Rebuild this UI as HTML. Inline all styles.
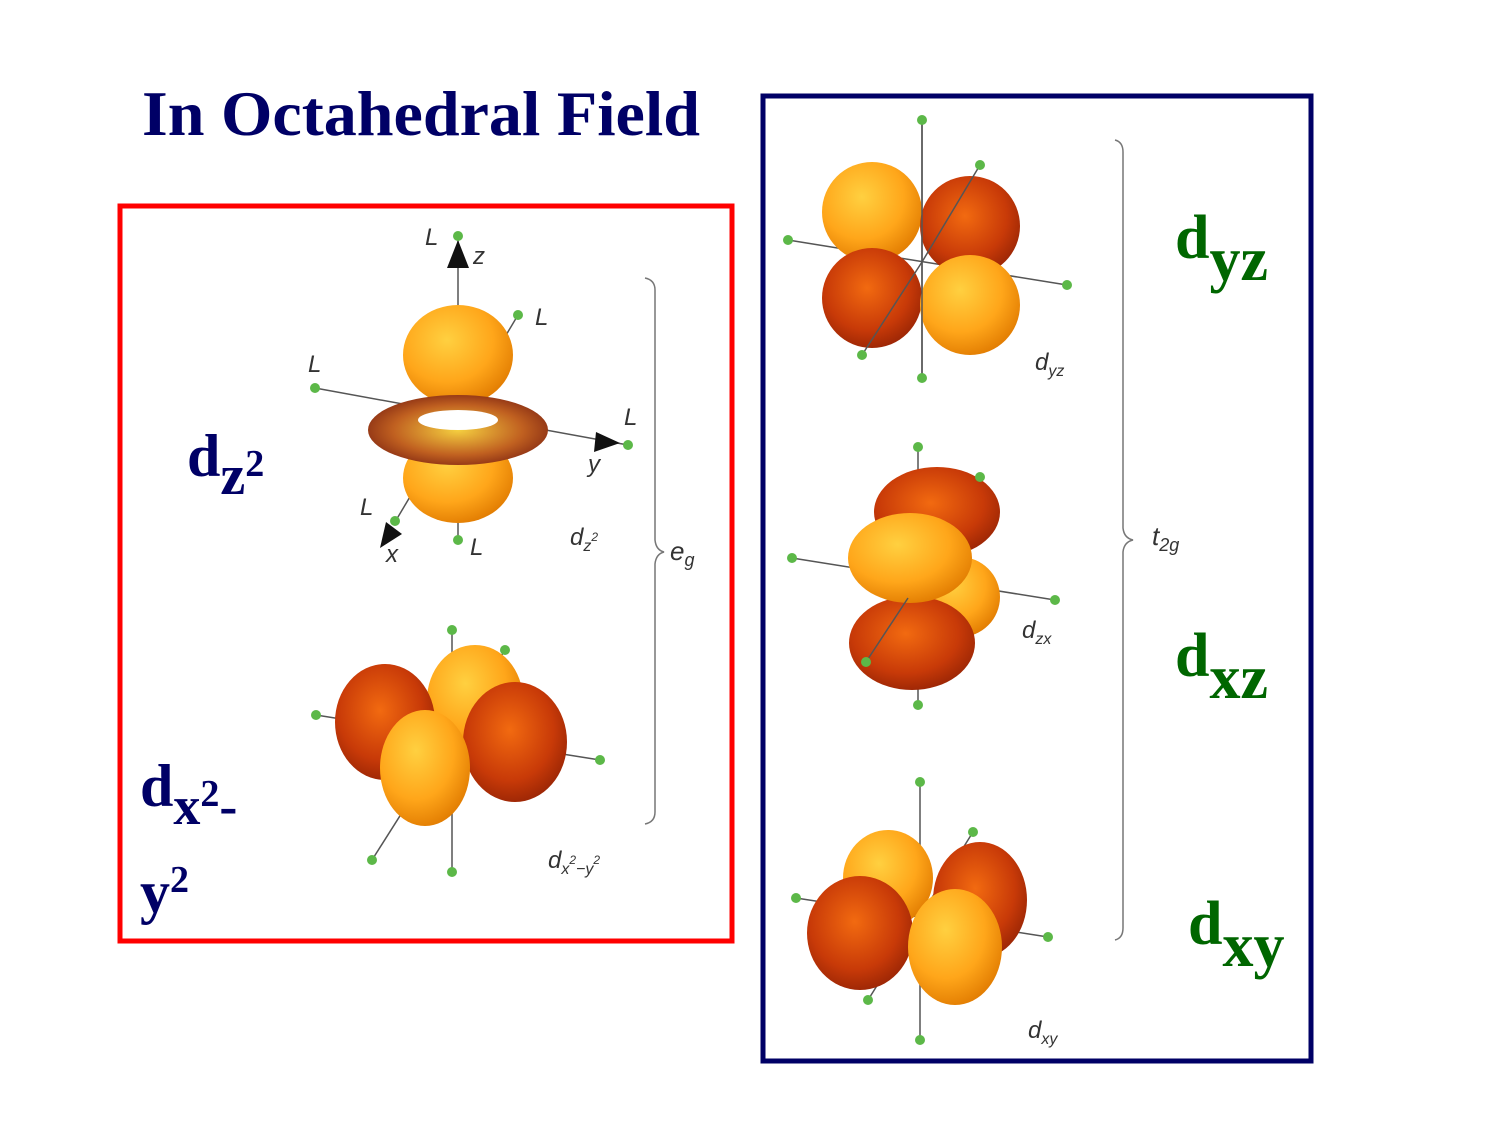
<!DOCTYPE html>
<html>
<head>
<meta charset="utf-8">
<style>
html,body{margin:0;padding:0;background:#fff;}
svg{display:block;}
.big{font-family:"Liberation Serif",serif;font-weight:bold;}
.sm{font-family:"Liberation Sans",sans-serif;font-style:italic;fill:#333;}
</style>
</head>
<body>
<svg width="1500" height="1125" viewBox="0 0 1500 1125">
<defs>
<radialGradient id="lt" cx="0.4" cy="0.35" r="0.7">
<stop offset="0" stop-color="#ffd040"/><stop offset="0.6" stop-color="#ffa61a"/><stop offset="1" stop-color="#e07a00"/>
</radialGradient>
<radialGradient id="dk" cx="0.45" cy="0.4" r="0.7">
<stop offset="0" stop-color="#f26a10"/><stop offset="0.6" stop-color="#c83a08"/><stop offset="1" stop-color="#8a1e04"/>
</radialGradient>
<radialGradient id="tor" cx="0.5" cy="0.5" r="0.6">
<stop offset="0" stop-color="#f5d040"/><stop offset="0.6" stop-color="#c06020"/><stop offset="1" stop-color="#7a2010"/>
</radialGradient>
</defs>

<text x="142" y="135" class="big" font-size="64" fill="#000066" textLength="558" lengthAdjust="spacingAndGlyphs">In Octahedral Field</text>

<rect x="120" y="206" width="612" height="735" fill="none" stroke="#ff0000" stroke-width="5"/>
<rect x="763" y="96" width="548" height="965" fill="none" stroke="#000066" stroke-width="5"/>

<g class="big" fill="#000066">
<text x="187" y="476" font-size="60">d<tspan font-size="56" dy="18">z</tspan><tspan font-size="38" dy="-18">2</tspan></text>
<text x="140" y="806" font-size="60">d<tspan font-size="54" dy="18">x</tspan><tspan font-size="38" dy="-18">2</tspan><tspan font-size="54" dy="18">-</tspan></text>
<text x="140" y="912" font-size="60">y<tspan font-size="38" dy="-20">2</tspan></text>
</g>
<g class="big" fill="#006600">
<text x="1175" y="258" font-size="62">d<tspan dy="22">yz</tspan></text>
<text x="1175" y="676" font-size="62">d<tspan dy="22">xz</tspan></text>
<text x="1188" y="944" font-size="62">d<tspan dy="22">xy</tspan></text>
</g>

<!-- dz2 -->
<g stroke="#555" stroke-width="1.5">
<line x1="458" y1="240" x2="458" y2="540"/>
<line x1="315" y1="388" x2="628" y2="445"/>
<line x1="395" y1="522" x2="518" y2="315"/>
<ellipse cx="458" cy="355" rx="55" ry="50" fill="url(#lt)" stroke="none"/>
<ellipse cx="458" cy="478" rx="55" ry="45" fill="url(#lt)" stroke="none"/>
<ellipse cx="458" cy="430" rx="90" ry="35" fill="url(#tor)" stroke="none"/>
<ellipse cx="458" cy="420" rx="40" ry="10" fill="#fff" stroke="none"/>
<polygon points="458,240 447,268 469,268" fill="#111" stroke="none"/>
<polygon points="620,443 596,432 594,452" fill="#111" stroke="none"/>
<polygon points="380,548 386,522 402,534" fill="#111" stroke="none"/>
</g>
<g fill="#5cb848">
<circle cx="458" cy="236" r="5"/><circle cx="518" cy="315" r="5"/><circle cx="315" cy="388" r="5"/><circle cx="628" cy="445" r="5"/><circle cx="395" cy="521" r="5"/><circle cx="458" cy="540" r="5"/>
</g>
<g class="sm" font-size="24">
<text x="425" y="245">L</text><text x="473" y="264">z</text><text x="535" y="325">L</text><text x="308" y="372">L</text><text x="624" y="425">L</text><text x="588" y="472">y</text><text x="360" y="515">L</text><text x="386" y="562">x</text><text x="470" y="555">L</text>
<text x="570" y="545">d<tspan font-size="16" dy="6">z</tspan><tspan font-size="12" dy="-10">2</tspan></text>
</g>

<!-- dx2-y2 -->
<g stroke="#555" stroke-width="1.5">
<line x1="452" y1="630" x2="452" y2="872"/>
<line x1="316" y1="715" x2="600" y2="760"/>
<line x1="372" y1="860" x2="505" y2="650"/>
<ellipse cx="475" cy="700" rx="48" ry="55" fill="url(#lt)" stroke="none"/>
<ellipse cx="385" cy="722" rx="50" ry="58" fill="url(#dk)" stroke="none"/>
<ellipse cx="515" cy="742" rx="52" ry="60" fill="url(#dk)" stroke="none"/>
<ellipse cx="425" cy="768" rx="45" ry="58" fill="url(#lt)" stroke="none"/>
</g>
<g fill="#5cb848"><circle cx="452" cy="630" r="5"/><circle cx="505" cy="650" r="5"/><circle cx="316" cy="715" r="5"/><circle cx="600" cy="760" r="5"/><circle cx="372" cy="860" r="5"/><circle cx="452" cy="872" r="5"/></g>
<text x="548" y="868" class="sm" font-size="24">d<tspan font-size="16" dy="6">x</tspan><tspan font-size="12" dy="-10">2</tspan><tspan font-size="16" dy="10">−y</tspan><tspan font-size="12" dy="-10">2</tspan></text>

<path d="M645,278 Q655,280 655,290 L655,540 Q656,550 664,552 Q656,554 655,564 L655,812 Q655,822 645,824" fill="none" stroke="#777" stroke-width="1.5"/>
<text x="670" y="560" class="sm" font-size="26">e<tspan font-size="18" dy="6">g</tspan></text>

<!-- dyz -->
<g stroke="#555" stroke-width="1.5">
<line x1="922" y1="120" x2="922" y2="378"/>
<line x1="788" y1="240" x2="1067" y2="285"/>
<ellipse cx="872" cy="212" rx="50" ry="50" fill="url(#lt)" stroke="none"/>
<ellipse cx="970" cy="226" rx="50" ry="50" fill="url(#dk)" stroke="none"/>
<ellipse cx="872" cy="298" rx="50" ry="50" fill="url(#dk)" stroke="none"/>
<ellipse cx="970" cy="305" rx="50" ry="50" fill="url(#lt)" stroke="none"/>
<line x1="862" y1="355" x2="922" y2="262"/><line x1="922" y1="262" x2="980" y2="165"/>
<line x1="922" y1="120" x2="922" y2="378"/>
</g>
<g fill="#5cb848"><circle cx="922" cy="120" r="5"/><circle cx="980" cy="165" r="5"/><circle cx="788" cy="240" r="5"/><circle cx="1067" cy="285" r="5"/><circle cx="862" cy="355" r="5"/><circle cx="922" cy="378" r="5"/></g>
<text x="1035" y="370" class="sm" font-size="24">d<tspan font-size="16" dy="6">yz</tspan></text>

<!-- dzx -->
<g stroke="#555" stroke-width="1.5">
<line x1="918" y1="447" x2="918" y2="705"/>
<line x1="792" y1="558" x2="1055" y2="600"/>
<ellipse cx="937" cy="512" rx="63" ry="45" fill="url(#dk)" stroke="none"/>
<ellipse cx="960" cy="597" rx="40" ry="40" fill="url(#lt)" stroke="none"/>
<ellipse cx="912" cy="643" rx="63" ry="47" fill="url(#dk)" stroke="none"/>
<ellipse cx="910" cy="558" rx="62" ry="45" fill="url(#lt)" stroke="none"/>
<line x1="866" y1="662" x2="908" y2="598"/>
</g>
<g fill="#5cb848"><circle cx="918" cy="447" r="5"/><circle cx="980" cy="477" r="5"/><circle cx="792" cy="558" r="5"/><circle cx="1055" cy="600" r="5"/><circle cx="866" cy="662" r="5"/><circle cx="918" cy="705" r="5"/></g>
<text x="1022" y="638" class="sm" font-size="24">d<tspan font-size="16" dy="6">zx</tspan></text>

<!-- dxy -->
<g stroke="#555" stroke-width="1.5">
<line x1="920" y1="782" x2="920" y2="1040"/>
<line x1="796" y1="898" x2="1048" y2="937"/>
<line x1="868" y1="1000" x2="973" y2="832"/>
<ellipse cx="888" cy="878" rx="45" ry="48" fill="url(#lt)" stroke="none"/>
<ellipse cx="980" cy="900" rx="47" ry="58" fill="url(#dk)" stroke="none"/>
<ellipse cx="860" cy="933" rx="53" ry="57" fill="url(#dk)" stroke="none"/>
<ellipse cx="955" cy="947" rx="47" ry="58" fill="url(#lt)" stroke="none"/>
</g>
<g fill="#5cb848"><circle cx="920" cy="782" r="5"/><circle cx="973" cy="832" r="5"/><circle cx="796" cy="898" r="5"/><circle cx="1048" cy="937" r="5"/><circle cx="868" cy="1000" r="5"/><circle cx="920" cy="1040" r="5"/></g>
<text x="1028" y="1038" class="sm" font-size="24">d<tspan font-size="16" dy="6">xy</tspan></text>

<path d="M1115,140 Q1123,142 1123,152 L1123,528 Q1124,538 1133,540 Q1124,542 1123,552 L1123,928 Q1123,938 1115,940" fill="none" stroke="#777" stroke-width="1.5"/>
<text x="1152" y="545" class="sm" font-size="26">t<tspan font-size="18" dy="6">2g</tspan></text>
</svg>
</body>
</html>
